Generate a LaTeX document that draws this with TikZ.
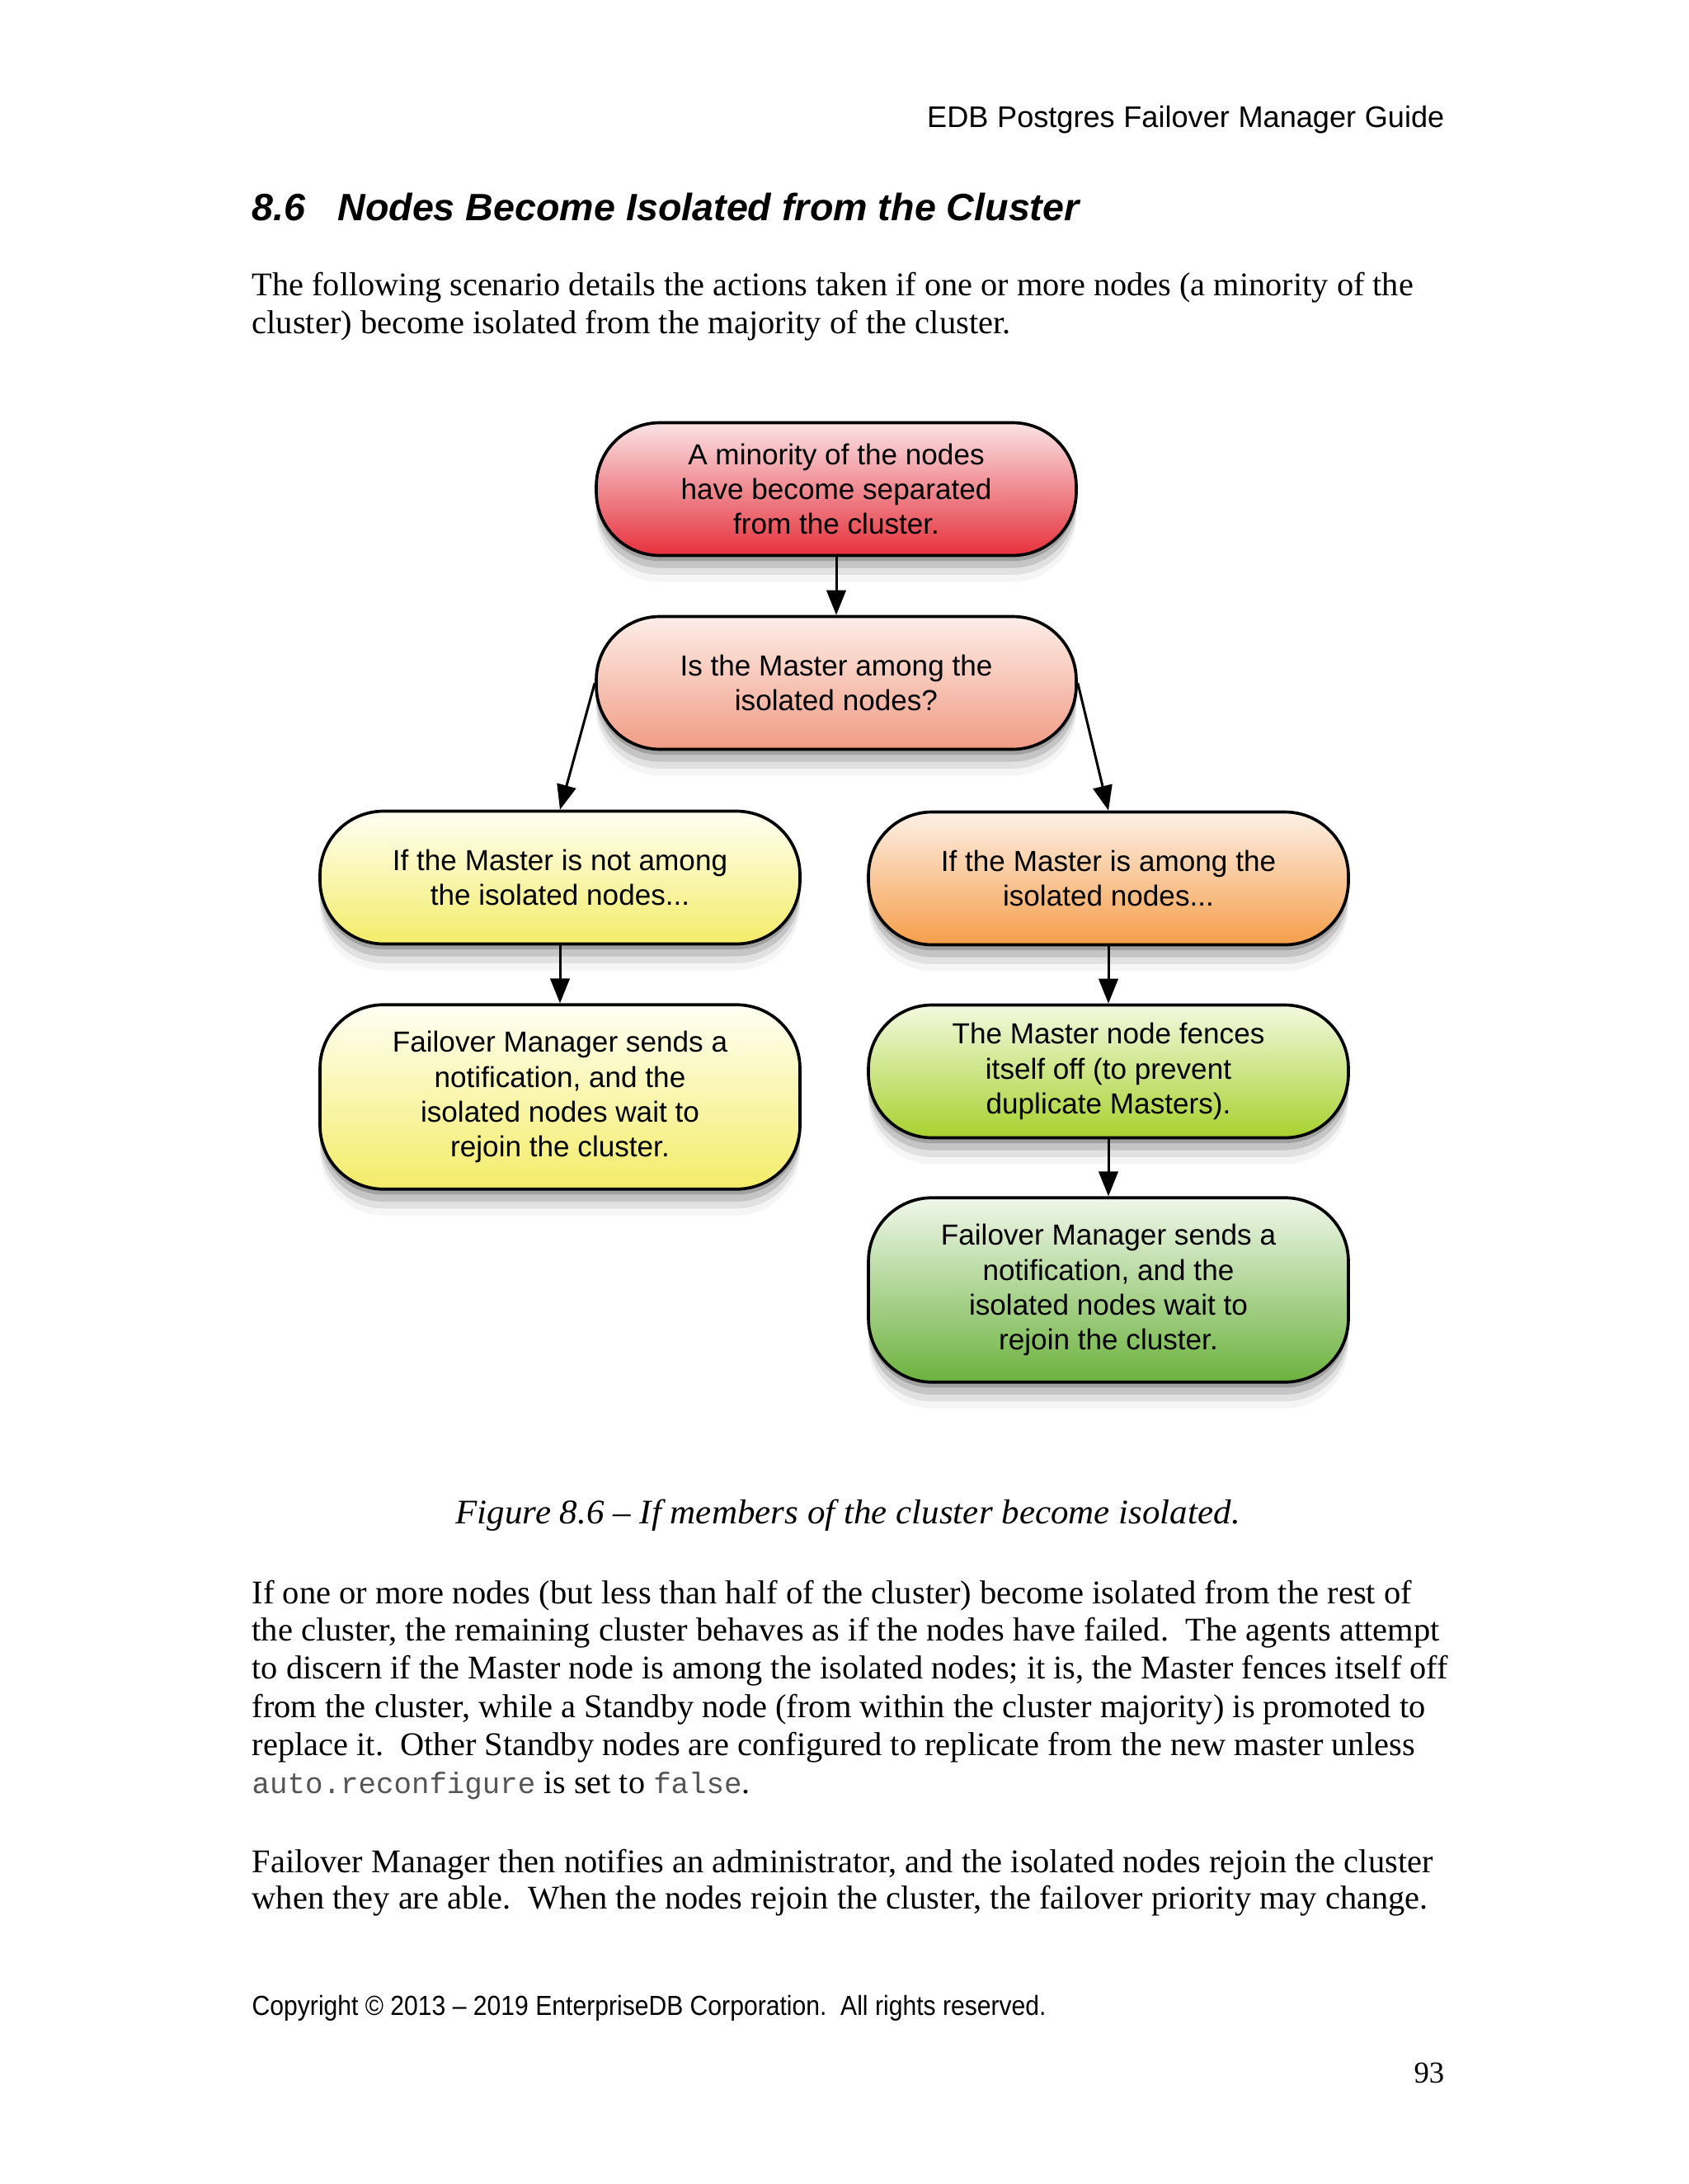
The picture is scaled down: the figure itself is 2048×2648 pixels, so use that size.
\documentclass[tikz,border=0pt]{standalone}
\usepackage{fontspec}
\usepackage{graphicx}
\setmainfont{Liberation Serif}
\newfontfamily\arial{Liberation Sans}
\newfontfamily\bodyfont{Liberation Serif}
\newfontfamily\capfont{Liberation Serif}
\newfontfamily\codefont{Liberation Mono}
\newcommand{\fitw}[2]{\resizebox{#1}{\height}{#2}}
\usetikzlibrary{arrows.meta,shadows}
\definecolor{aTop}{HTML}{FAE3E5}\definecolor{aBot}{HTML}{E6313C}
\definecolor{bTop}{HTML}{FDEDE8}\definecolor{bBot}{HTML}{F19C84}
\definecolor{cTop}{HTML}{FFFFF4}\definecolor{cBot}{HTML}{F4EC68}
\definecolor{dTop}{HTML}{FDF0E6}\definecolor{dBot}{HTML}{F59E4A}
\definecolor{eTop}{HTML}{F3F9E0}\definecolor{eBot}{HTML}{A7D12E}
\definecolor{fTop}{HTML}{F0F7EA}\definecolor{fBot}{HTML}{6CB23E}
\definecolor{codegray}{HTML}{555555}
\begin{document}
\begin{tikzpicture}[x=0.29883pt,y=-0.29883pt,
  box/.style={draw=black, line width=1.1pt, rounded corners=23pt,
    minimum width=173.9pt, minimum height=48.1pt, inner sep=0pt, align=center,
    font=\arial\fontsize{10.5}{12.6}\selectfont,
    drop shadow={shadow xshift=0pt, shadow yshift=-2pt, opacity=0.18, fill=black},
    drop shadow={shadow xshift=0pt, shadow yshift=-4.5pt, opacity=0.12, fill=black},
    drop shadow={shadow xshift=0pt, shadow yshift=-7pt, opacity=0.08, fill=black},
    drop shadow={shadow xshift=0pt, shadow yshift=-9.5pt, opacity=0.04, fill=black}},
  tallbox/.style={box, minimum height=66.8pt},
  flow/.style={-{Triangle[length=9pt,width=7pt]}, line width=0.9pt},
  bodyline/.style={anchor=base west, inner sep=0pt, font=\bodyfont\fontsize{12}{14}\selectfont}
]
\useasboundingbox[fill=white] (0,0) rectangle (2048,2648);

% header and title
\node[anchor=base east, inner sep=0pt, font=\arial\fontsize{10.8}{13}\selectfont] (hdr) at (1752,155)
  {\makebox[187.4pt][s]{EDB Postgres Failover Manager Guide}};
\node[anchor=base west, inner sep=0pt, font=\arial\bfseries\itshape\fontsize{13.8}{17}\selectfont] (title) at (305,267)
  {\fitw{299.7pt}{8.6\ \ \ Nodes Become Isolated from the Cluster}};

% paragraph 1
\node[bodyline] (p1a) at (305,358) {\fitw{420.8pt}{The following scenario details the actions taken if one or more nodes (a minority of the}};
\node[bodyline] (p1b) at (305,404) {\fitw{274.9pt}{cluster) become isolated from the majority of the cluster.}};

% flowchart
\node[box, top color=aTop, bottom color=aBot] (n1) at (1014,593) {A minority of the nodes\\have become separated\\from the cluster.};
\node[box, top color=bTop, bottom color=bBot] (n2) at (1014,828) {Is the Master among the\\isolated nodes?};
\node[box, top color=cTop, bottom color=cBot] (n3) at (679,1064) {If the Master is not among\\the isolated nodes...};
\node[box, top color=dTop, bottom color=dBot] (n4) at (1344,1065) {If the Master is among the\\isolated nodes...};
\node[tallbox, top color=cTop, bottom color=cBot] (n5) at (679,1330) {Failover Manager sends a\\notification, and the\\isolated nodes wait to\\rejoin the cluster.};
\node[box, top color=eTop, bottom color=eBot] (n6) at (1344,1299) {The Master node fences\\itself off (to prevent\\duplicate Masters).};
\node[tallbox, top color=fTop, bottom color=fBot] (n7) at (1344,1564) {Failover Manager sends a\\notification, and the\\isolated nodes wait to\\rejoin the cluster.};

\draw[flow] (n1) -- (n2);
\draw[flow] (n2.west) -- (n3.north);
\draw[flow] (n2.east) -- (n4.north);
\draw[flow] (n3) -- (n5);
\draw[flow] (n4) -- (n6);
\draw[flow] (n6) -- (n7);

% caption
\node[anchor=base west, inner sep=0pt, font=\capfont\itshape\fontsize{12.5}{15}\selectfont] (cap) at (552,1847)
  {\fitw{284.2pt}{Figure 8.6 – If members of the cluster become isolated.}};

% paragraph 2
\node[bodyline] (p2a) at (305,1944) {\fitw{420.2pt}{If one or more nodes (but less than half of the cluster) become isolated from the rest of}};
\node[bodyline] (p2b) at (305,1989) {\fitw{430.3pt}{the cluster, the remaining cluster behaves as if the nodes have failed.\ \ The agents attempt}};
\node[bodyline] (p2c) at (305,2035) {\fitw{433.3pt}{to discern if the Master node is among the isolated nodes; it is, the Master fences itself off}};
\node[bodyline] (p2d) at (305,2082) {\fitw{425.2pt}{from the cluster, while a Standby node (from within the cluster majority) is promoted to}};
\node[bodyline] (p2e) at (305,2128) {\fitw{421.3pt}{replace it.\ \ Other Standby nodes are configured to replicate from the new master unless}};
\node[bodyline] (p2f) at (305,2174) {{\codefont\fontsize{10.7}{13}\selectfont\color{codegray}auto.reconfigure} is set to {\codefont\fontsize{10.7}{13}\selectfont\color{codegray}false}.};

% paragraph 3
\node[bodyline] (p3a) at (305,2270) {\fitw{427.9pt}{Failover Manager then notifies an administrator, and the isolated nodes rejoin the cluster}};
\node[bodyline] (p3b) at (305,2314) {\fitw{426.1pt}{when they are able.\ \ When the nodes rejoin the cluster, the failover priority may change.}};

% footer
\node[anchor=base west, inner sep=0pt, font=\arial\fontsize{10}{12}\selectfont] (foot) at (305,2443)
  {\fitw{287.8pt}{Copyright © 2013 – 2019 EnterpriseDB Corporation.\ \ All rights reserved.}};
\node[anchor=base east, inner sep=0pt, font=\bodyfont\fontsize{11}{13}\selectfont] (pg) at (1752,2525) {93};
\end{tikzpicture}
\end{document}
